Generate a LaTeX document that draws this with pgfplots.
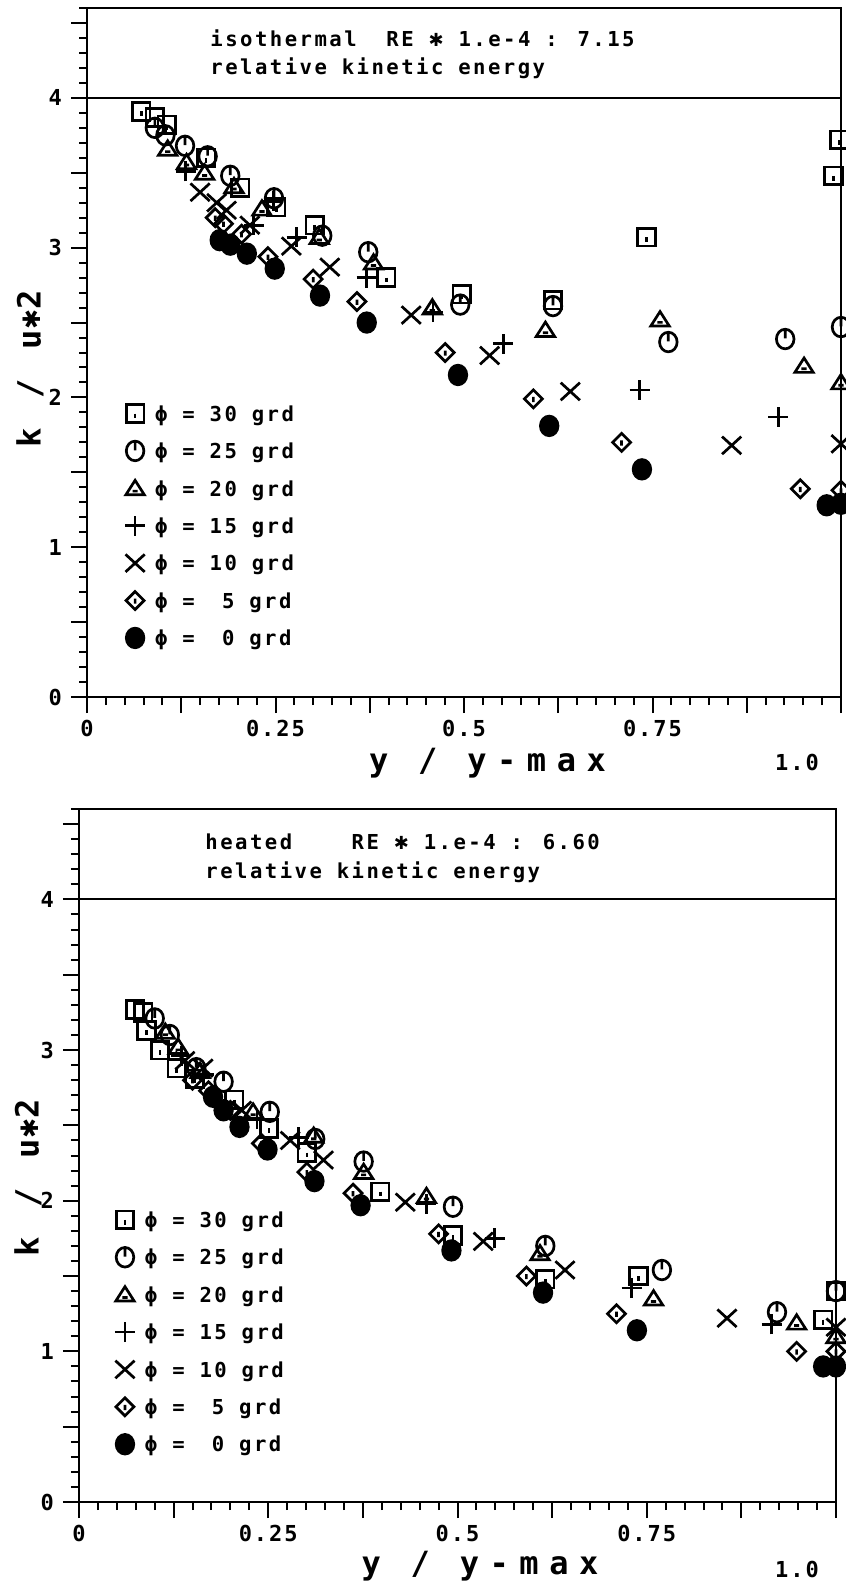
\documentclass[border=0pt]{standalone}
\usepackage{fontspec}
\usepackage{pgfplots}
\pgfplotsset{compat=1.18}

% plotter-like lettering
\newfontfamily\plotfont{DejaVu Sans Mono}[LetterSpace=12]
\newfontfamily\tickfont{DejaVu Sans Mono}[LetterSpace=9]
\newfontfamily\bigfont{DejaVu Sans Mono}[LetterSpace=33]
\newfontfamily\symfont{DejaVu Sans}
\newcommand{\txtfont}{\plotfont\bfseries\fontsize{10.3pt}{12pt}\selectfont}
\newcommand{\tckfont}{\tickfont\bfseries\fontsize{11pt}{12pt}\selectfont}
\newcommand{\lblfont}{\bigfont\bfseries\fontsize{16pt}{18pt}\selectfont}
\newcommand{\mulstar}{{\symfont\bfseries\fontsize{9pt}{9pt}\selectfont ✱}}

% marker shapes of the pen plotter
\pgfdeclareplotmark{psq}{%
  \pgfpathrectangle{\pgfpoint{-4.4pt}{-4.4pt}}{\pgfpoint{8.8pt}{8.8pt}}%
  \pgfpathmoveto{\pgfpoint{0pt}{0pt}}\pgfpathlineto{\pgfpoint{0pt}{-2.4pt}}%
  \pgfusepathqstroke}
\pgfdeclareplotmark{pcirc}{%
  \pgfpathellipse{\pgfpointorigin}{\pgfpoint{4.4pt}{0pt}}{\pgfpoint{0pt}{4.9pt}}%
  \pgfpathmoveto{\pgfpoint{0pt}{4.9pt}}\pgfpathlineto{\pgfpoint{0pt}{0.3pt}}%
  \pgfusepathqstroke}
\pgfdeclareplotmark{ptri}{%
  \pgfpathmoveto{\pgfpoint{-4.6pt}{-3.2pt}}\pgfpathlineto{\pgfpoint{4.6pt}{-3.2pt}}%
  \pgfpathlineto{\pgfpoint{0pt}{4pt}}\pgfpathclose
  \pgfpathmoveto{\pgfpoint{-1.3pt}{-1.4pt}}\pgfpathlineto{\pgfpoint{1.3pt}{-1.4pt}}%
  \pgfusepathqstroke}
\pgfdeclareplotmark{pplus}{%
  \pgfpathmoveto{\pgfpoint{-5pt}{0pt}}\pgfpathlineto{\pgfpoint{5pt}{0pt}}%
  \pgfpathmoveto{\pgfpoint{0pt}{-5pt}}\pgfpathlineto{\pgfpoint{0pt}{5pt}}%
  \pgfusepathqstroke}
\pgfdeclareplotmark{pcross}{%
  \pgfpathmoveto{\pgfpoint{-4.8pt}{-4.4pt}}\pgfpathlineto{\pgfpoint{4.8pt}{4.4pt}}%
  \pgfpathmoveto{\pgfpoint{-4.8pt}{4.4pt}}\pgfpathlineto{\pgfpoint{4.8pt}{-4.4pt}}%
  \pgfusepathqstroke}
\pgfdeclareplotmark{pdia}{%
  \pgfpathmoveto{\pgfpoint{0pt}{4.5pt}}\pgfpathlineto{\pgfpoint{4.5pt}{0pt}}%
  \pgfpathlineto{\pgfpoint{0pt}{-4.5pt}}\pgfpathlineto{\pgfpoint{-4.5pt}{0pt}}\pgfpathclose
  \pgfpathmoveto{\pgfpoint{0pt}{1pt}}\pgfpathlineto{\pgfpoint{0pt}{-1.6pt}}%
  \pgfusepathqstroke}
\pgfdeclareplotmark{pdot}{%
  \pgfpathellipse{\pgfpointorigin}{\pgfpoint{4.4pt}{0pt}}{\pgfpoint{0pt}{4.9pt}}%
  \pgfusepathqfillstroke}

\pgfplotsset{
  panel/.style={
    scale only axis,
    xmin=0, xmax=1, ymin=0, ymax=4.6,
    axis line style={line width=1pt},
    every tick/.style={line width=1pt, black},
    tick align=outside, tick pos=left,
    major tick length=8pt, minor tick length=4pt,
    xtick={0,0.125,0.25,0.375,0.5,0.625,0.75,0.875,1},
    xticklabels={0,{},0.25,{},0.5,{},0.75,{},{}},
    minor xtick={0,0.025,...,1.001},
    ytick={0,0.5,1,1.5,2,2.5,3,3.5,4,4.5},
    yticklabels={0,{},1,{},2,{},3,{},4,{}},
    minor ytick={0,0.1,...,4.61},
    ticklabel style={font=\tckfont},
    yticklabel style={xshift=-1pt},
    /pgf/number format/assume math mode=true,
    legend cell align=left,
    legend style={draw=none, fill=none, font=\txtfont, anchor=north west,
      row sep=6.75pt, inner sep=0pt,
      nodes={inner sep=1.5pt, text height=7.5pt, text depth=1pt}},
    legend image code/.code={%
      \path[draw=none, fill=none] (-5pt,-5pt) rectangle (8.5pt,6.2pt);
      \draw[#1] plot coordinates {(0pt,0.6pt)};},
    every axis plot/.append style={only marks, black, line width=1.35pt},
  },
  s30/.style={mark=psq},
  s25/.style={mark=pcirc},
  s20/.style={mark=ptri},
  s15/.style={mark=pplus},
  s10/.style={mark=pcross},
  s05/.style={mark=pdia},
  s00/.style={mark=pdot},
}

\begin{document}
\begin{tikzpicture}
\useasboundingbox (0pt,0pt) rectangle (423pt,-792.5pt);

% ---------------- isothermal ----------------
\begin{axis}[panel, width=377pt, height=344.5pt,
  at={(43.5pt,-348.5pt)}, anchor=south west,
  legend style={at={(axis cs:0.050,1.970)}}]
\addplot[s30] coordinates {(0.072,3.91) (0.090,3.87) (0.106,3.82) (0.158,3.60) (0.203,3.40) (0.251,3.27) (0.302,3.15) (0.397,2.80) (0.497,2.69) (0.618,2.65) (0.742,3.07) (0.990,3.48) (0.998,3.72)};
\addlegendentry{ϕ = 30 grd}
\addplot[s25] coordinates {(0.090,3.80) (0.104,3.75) (0.130,3.68) (0.160,3.61) (0.190,3.48) (0.248,3.33) (0.312,3.08) (0.373,2.97) (0.495,2.62) (0.618,2.61) (0.771,2.37) (0.926,2.39) (1.0,2.47)};
\addlegendentry{ϕ = 25 grd}
\addplot[s20] coordinates {(0.107,3.66) (0.132,3.57) (0.156,3.50) (0.195,3.41) (0.232,3.26) (0.308,3.07) (0.380,2.90) (0.458,2.60) (0.608,2.45) (0.760,2.52) (0.951,2.21) (1.0,2.10)};
\addlegendentry{ϕ = 20 grd}
\addplot[s15] coordinates {(0.131,3.51) (0.221,3.15) (0.247,3.31) (0.278,3.07) (0.371,2.80) (0.459,2.57) (0.552,2.36) (0.733,2.05) (0.917,1.87)};
\addlegendentry{ϕ = 15 grd}
\addplot[s10] coordinates {(0.150,3.37) (0.172,3.30) (0.185,3.25) (0.216,3.15) (0.271,3.01) (0.322,2.87) (0.430,2.55) (0.534,2.28) (0.641,2.04) (0.855,1.68) (1.0,1.69)};
\addlegendentry{ϕ = 10 grd}
\addplot[s05] coordinates {(0.170,3.20) (0.181,3.16) (0.205,3.09) (0.240,2.94) (0.300,2.79) (0.358,2.64) (0.475,2.30) (0.592,1.99) (0.709,1.70) (0.946,1.39) (1.0,1.38)};
\addlegendentry{ϕ = \phantom{0}5 grd}
\addplot[s00] coordinates {(0.176,3.05) (0.190,3.02) (0.212,2.96) (0.249,2.86) (0.309,2.68) (0.371,2.50) (0.492,2.15) (0.613,1.81) (0.736,1.52) (0.981,1.28) (1.0,1.29)};
\addlegendentry{ϕ = \phantom{0}0 grd}
\draw[line width=1pt] (axis cs:0,4) -- (axis cs:1,4);
\end{axis}
\node[anchor=west, font=\txtfont, inner sep=0pt] at (105pt,-19pt) {isothermal\ \ RE \mulstar{} 1.e-4 : 7.15};
\node[anchor=west, font=\txtfont, inner sep=0pt] at (105pt,-34pt) {relative kinetic energy};
\node[font=\lblfont, inner sep=0pt] at (243.75pt,-381.5pt) {y / y-max};
\node[font=\tckfont, inner sep=0pt] at (398.5pt,-381pt) {1.0};
\node[font=\lblfont, rotate=90, inner sep=0pt] at (15pt,-184.5pt) {k / u{\symfont\bfseries\fontsize{12pt}{12pt}\selectfont ✱}2};

% ---------------- heated ----------------
\begin{axis}[panel, width=378.5pt, height=346.5pt,
  at={(39.5pt,-751pt)}, anchor=south west,
  legend style={at={(axis cs:0.047,1.950)}}]
\addplot[s30] coordinates {(0.074,3.27) (0.085,3.25) (0.089,3.13) (0.107,3.00) (0.129,2.88) (0.153,2.81) (0.205,2.67) (0.251,2.48) (0.301,2.32) (0.398,2.06) (0.494,1.77) (0.616,1.48) (0.739,1.50) (0.983,1.21) (1.0,1.40)};
\addlegendentry{ϕ = 30 grd}
\addplot[s25] coordinates {(0.100,3.21) (0.120,3.10) (0.155,2.88) (0.191,2.79) (0.252,2.59) (0.312,2.41) (0.376,2.26) (0.494,1.96) (0.616,1.70) (0.770,1.54) (0.922,1.26) (1.0,1.40)};
\addlegendentry{ϕ = 25 grd}
\addplot[s20] coordinates {(0.114,3.12) (0.131,3.02) (0.160,2.86) (0.230,2.59) (0.310,2.43) (0.376,2.19) (0.459,2.03) (0.609,1.65) (0.759,1.35) (0.948,1.19) (1.0,1.10)};
\addlegendentry{ϕ = 20 grd}
\addplot[s15] coordinates {(0.135,2.96) (0.165,2.84) (0.235,2.54) (0.290,2.42) (0.459,1.98) (0.549,1.75) (0.730,1.42) (0.915,1.18)};
\addlegendentry{ϕ = 15 grd}
\addplot[s10] coordinates {(0.140,2.93) (0.164,2.88) (0.215,2.60) (0.279,2.40) (0.323,2.27) (0.431,1.99) (0.534,1.73) (0.642,1.54) (0.856,1.22) (1.0,1.16)};
\addlegendentry{ϕ = 10 grd}
\addplot[s05] coordinates {(0.150,2.80) (0.171,2.73) (0.200,2.60) (0.241,2.38) (0.301,2.19) (0.362,2.05) (0.475,1.78) (0.591,1.50) (0.710,1.25) (0.948,1.00) (1.0,1.00)};
\addlegendentry{ϕ = \phantom{0}5 grd}
\addplot[s00] coordinates {(0.177,2.69) (0.191,2.60) (0.212,2.49) (0.249,2.34) (0.311,2.13) (0.372,1.97) (0.492,1.67) (0.613,1.39) (0.737,1.14) (0.983,0.90) (1.0,0.90)};
\addlegendentry{ϕ = \phantom{0}0 grd}
\draw[line width=1pt] (axis cs:0,4) -- (axis cs:1,4);
\end{axis}
\node[anchor=west, font=\txtfont, inner sep=0pt] at (102.5pt,-421pt) {heated\ \ \ \ RE \mulstar{} 1.e-4 : 6.60};
\node[anchor=west, font=\txtfont, inner sep=0pt] at (102.5pt,-436pt) {relative kinetic energy};
\node[font=\lblfont, inner sep=0pt] at (240pt,-783pt) {y / y-max};
\node[font=\tckfont, inner sep=0pt] at (398.5pt,-784.5pt) {1.0};
\node[font=\lblfont, rotate=90, inner sep=0pt] at (14pt,-589pt) {k / u{\symfont\bfseries\fontsize{12pt}{12pt}\selectfont ✱}2};
\end{tikzpicture}
\end{document}
